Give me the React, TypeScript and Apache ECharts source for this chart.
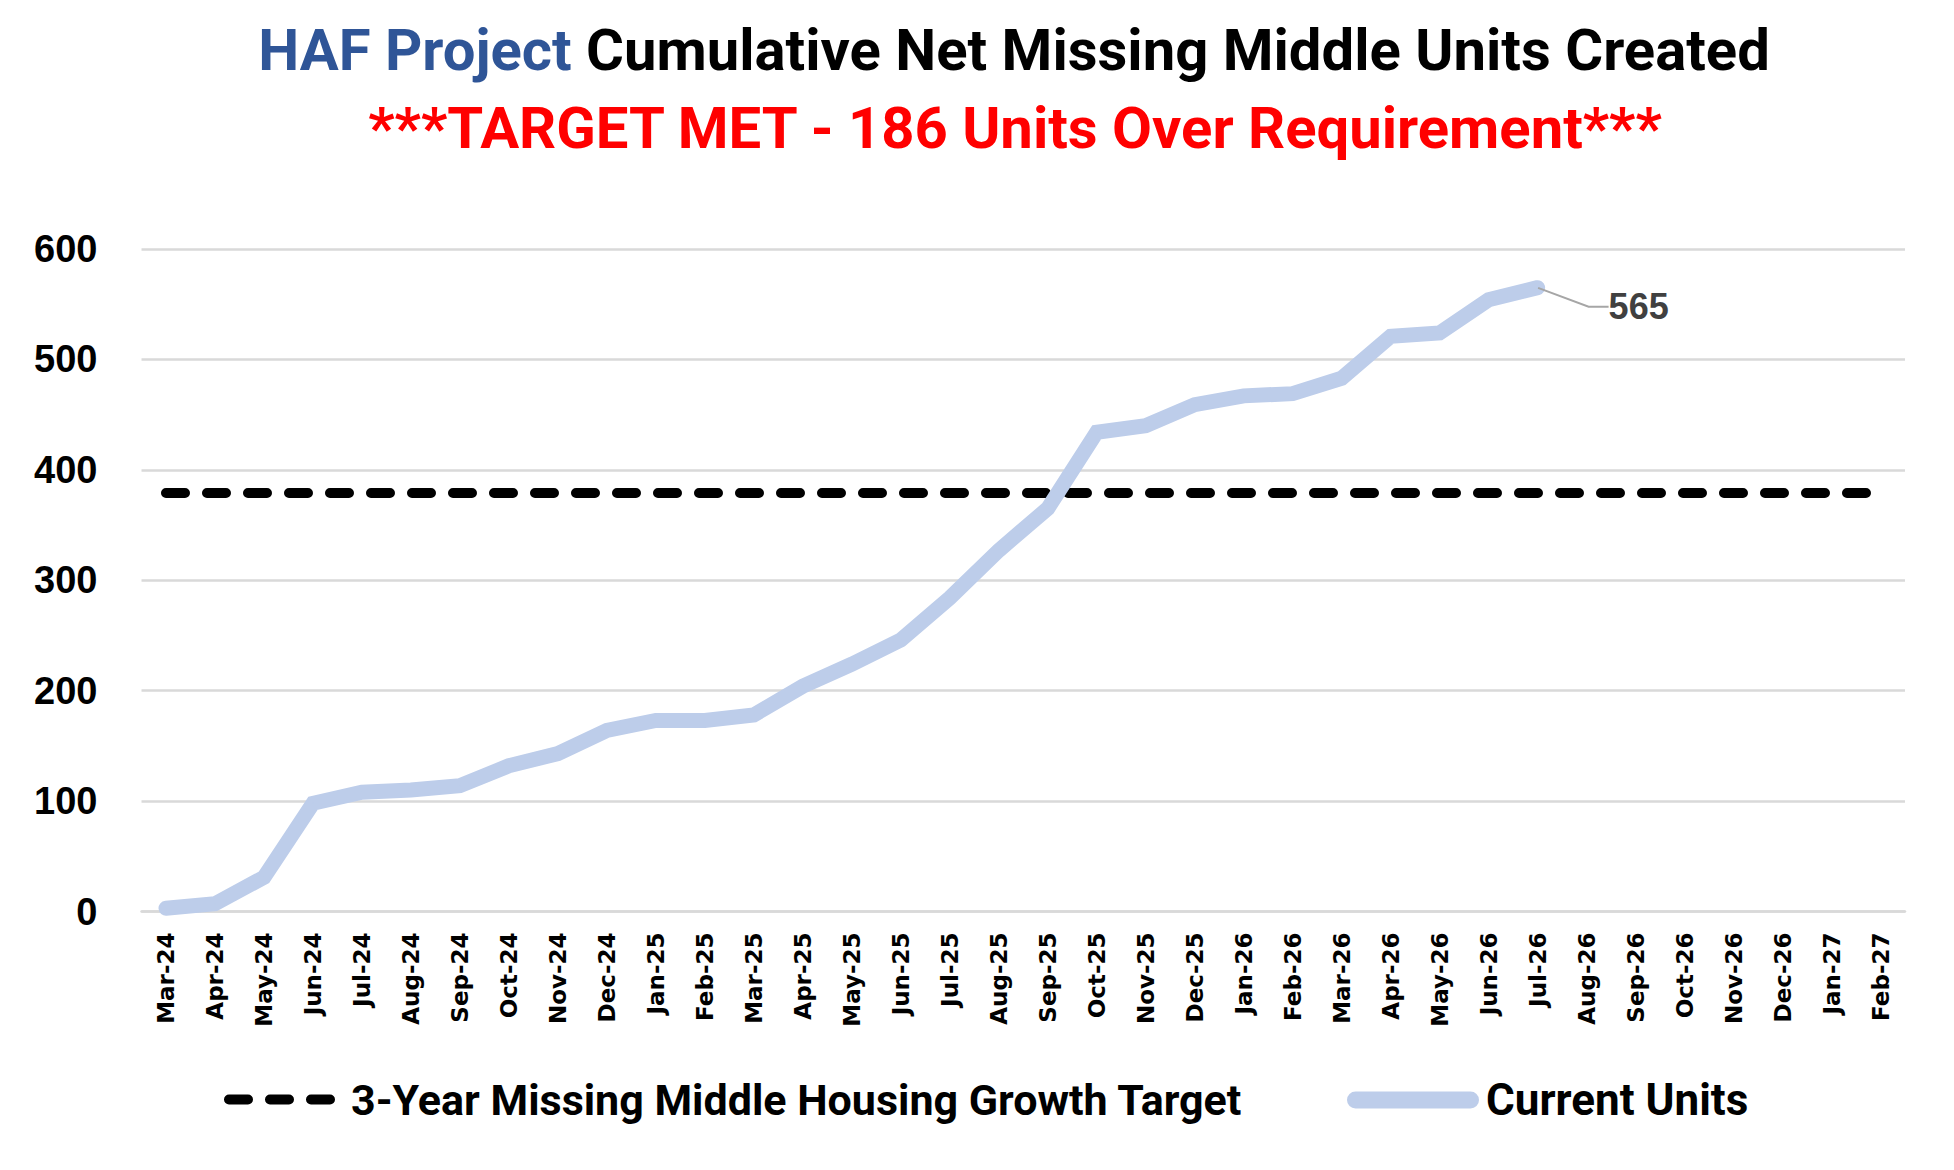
import React, { useEffect, useRef } from "react";
import * as echarts from "echarts";

const months = [
  "Mar-24", "Apr-24", "May-24", "Jun-24", "Jul-24", "Aug-24", "Sep-24", "Oct-24", "Nov-24", "Dec-24",
  "Jan-25", "Feb-25", "Mar-25", "Apr-25", "May-25", "Jun-25", "Jul-25", "Aug-25", "Sep-25", "Oct-25",
  "Nov-25", "Dec-25", "Jan-26", "Feb-26", "Mar-26", "Apr-26", "May-26", "Jun-26", "Jul-26", "Aug-26",
  "Sep-26", "Oct-26", "Nov-26", "Dec-26", "Jan-27", "Feb-27",
];

const currentUnits = [
  3, 7, 31, 98, 108, 110, 114, 132, 143, 164,
  173, 173, 178, 204, 224, 246, 284, 327, 365, 434,
  440, 459, 467, 469, 483, 521, 524, 554, 565,
];

const targetUnits = [
  379, 379, 379, 379, 379, 379, 379, 379, 379, 379,
  379, 379, 379, 379, 379, 379, 379, 379, 379, 379,
  379, 379, 379, 379, 379, 379, 379, 379, 379, 379,
  379, 379, 379, 379, 379, 379,
];

const yMin = 0;
const yMax = 600;
const yStep = 100;

const titleLead = "HAF Project";
const titleRest = "Cumulative Net Missing Middle Units Created";
const subtitleText = "***TARGET MET - 186 Units Over Requirement***";
const targetName = "3-Year Missing Middle Housing Growth Target";
const currentName = "Current Units";

const BLUE_LINE = "#BDCDEA";
const TITLE_BLUE = "#2F5597";
const CAL = "Roboto, 'Noto Sans', sans-serif";
const ARIAL = "'Liberation Sans', Arial, sans-serif";

export default function App() {
  const ref = useRef<HTMLDivElement>(null);

  useEffect(() => {
    document.body.style.margin = "0";
    if (!ref.current) return;
    const chart = echarts.init(ref.current, undefined, { renderer: "svg" });
    const lastIdx = currentUnits.length - 1;

    const currentData = currentUnits.map((v, i) =>
      i === lastIdx
        ? {
            value: v,
            label: {
              show: true,
              position: "right",
              distance: 5,
              padding: [0, 0, 0, 15],
              formatter: "{c}",
              color: "#404040",
              fontFamily: ARIAL,
              fontWeight: "bold",
              fontSize: 36,
            },
            labelLine: {
              show: true,
              length2: 20,
              lineStyle: { color: "#A6A6A6", width: 2 },
            },
          }
        : v
    );

    chart.setOption({
      animation: false,
      backgroundColor: "#ffffff",
      title: [
        {
          text: `{b|${titleLead}\u00A0}{k|${titleRest}}`,
          left: 1014,
          top: 20,
          textAlign: "center",
          padding: 0,
          textStyle: {
            rich: {
              b: { color: TITLE_BLUE, fontFamily: CAL, fontWeight: "bold", fontSize: 58, lineHeight: 59 },
              k: { color: "#000000", fontFamily: CAL, fontWeight: "bold", fontSize: 58, lineHeight: 59 },
            },
          },
        },
        {
          text: subtitleText,
          left: 1015,
          top: 98,
          textAlign: "center",
          padding: 0,
          textStyle: { color: "#FF0000", fontFamily: CAL, fontWeight: "bold", fontSize: 58, lineHeight: 59 },
        },
      ],
      legend: [
        {
          data: [
            {
              name: targetName,
              lineStyle: { color: "#000000", width: 10, type: [19, 22], cap: "round" },
              itemStyle: { color: "rgba(0,0,0,0)", borderColor: "rgba(0,0,0,0)", borderWidth: 0, opacity: 0 },
            },
          ],
          left: 224,
          top: 1078,
          itemWidth: 102,
          itemHeight: 20,
          padding: 0,
          selectedMode: false,
          textStyle: {
            color: "#000000",
            fontFamily: CAL,
            fontWeight: "bold",
            fontSize: 43,
            padding: [0, 0, 0, 15],
          },
        },
        {
          data: [
            {
              name: currentName,
              icon: "path://M8.5,0H123.5A8.5,8.5,0,0,1,123.5,17H8.5A8.5,8.5,0,0,1,8.5,0Z",
              itemStyle: { color: BLUE_LINE },
            },
          ],
          left: 1347,
          top: 1078,
          itemWidth: 132,
          itemHeight: 17,
          padding: 0,
          selectedMode: false,
          textStyle: {
            color: "#000000",
            fontFamily: CAL,
            fontWeight: "bold",
            fontSize: 44,
            padding: [0, 0, 0, 2],
          },
        },
      ],
      grid: { left: 141.5, right: 49, top: 249, bottom: 258.5, containLabel: false },
      xAxis: {
        type: "category",
        data: months,
        boundaryGap: true,
        axisLine: { show: true, lineStyle: { color: "#D9D9D9", width: 2.5 } },
        axisTick: { show: false },
        axisLabel: {
          rotate: 90,
          interval: 0,
          margin: 21,
          color: "#000000",
          fontFamily: "'DejaVu Sans', sans-serif",
          fontWeight: "bold",
          fontSize: 23,
        },
      },
      yAxis: {
        type: "value",
        min: yMin,
        max: yMax,
        interval: yStep,
        axisLine: { show: false },
        axisTick: { show: false },
        splitLine: { lineStyle: { color: "#D9D9D9", width: 2.5 } },
        axisLabel: {
          margin: 44,
          color: "#000000",
          fontFamily: ARIAL,
          fontWeight: "bold",
          fontSize: 38,
        },
      },
      series: [
        {
          name: targetName,
          type: "line",
          data: targetUnits,
          symbol: "none",
          z: 2,
          lineStyle: { color: "#000000", width: 10, type: [19, 22], cap: "round" },
          itemStyle: { color: "#000000" },
          emphasis: { disabled: true },
        },
        {
          name: currentName,
          type: "line",
          data: currentData,
          symbol: "circle",
          symbolSize: 1,
          showSymbol: true,
          showAllSymbol: true,
          z: 3,
          itemStyle: { color: BLUE_LINE },
          lineStyle: { color: BLUE_LINE, width: 15, cap: "round", join: "miter" },
          label: { show: false },
          labelLayout: (params: any) =>
            params.dataIndex === lastIdx ? { dx: 50.5, dy: 19 } : {},
          emphasis: { disabled: true },
        },
      ],
    });

    return () => {
      chart.dispose();
    };
  }, []);

  return <div ref={ref} style={{ width: 1954, height: 1170 }} />;
}
